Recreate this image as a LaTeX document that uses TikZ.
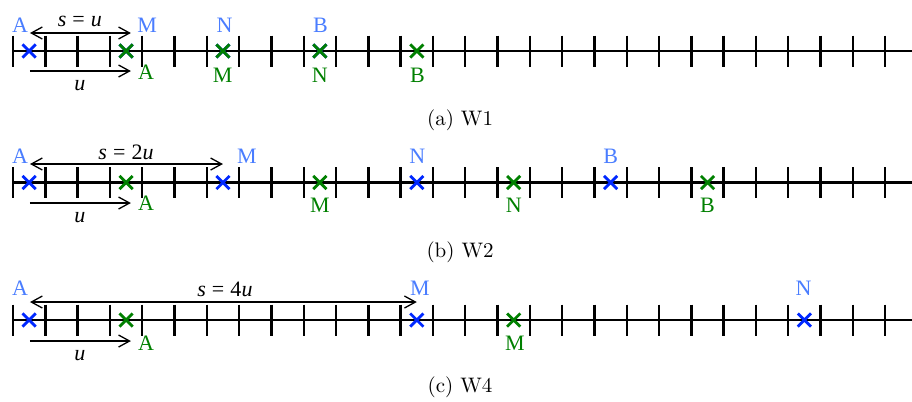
\documentclass[tikz,border=0pt]{standalone}
\usepackage{fontspec}
\newfontfamily\labelfont{Liberation Serif}
\usetikzlibrary{shapes.misc, arrows.meta, positioning}
\definecolor{ptblue}{RGB}{0, 40, 255}
\definecolor{ptlightblue}{RGB}{74, 125, 255}
\definecolor{ptgreen}{RGB}{0, 128, 0}
\tikzstyle{axis} = [line width=1.1pt, black]
\tikzstyle{tickmark} = [line width=1.2pt, black]
\tikzstyle{bluecross} = [cross out, draw=ptblue, line width=1.4pt, minimum size=5.2pt, inner sep=0pt]
\tikzstyle{greencross} = [cross out, draw=ptgreen, line width=1.4pt, minimum size=5.2pt, inner sep=0pt]
\tikzstyle{bluelabel} = [font=\labelfont\fontsize{11}{13}\selectfont, text=ptlightblue, inner sep=0pt]
\tikzstyle{greenlabel} = [font=\labelfont\fontsize{11}{13}\selectfont, text=ptgreen, inner sep=0pt]
\tikzstyle{mathlabel} = [font=\labelfont\fontsize{11}{13}\selectfont, inner sep=0pt]
\tikzstyle{arrow} = [-{Straight Barb[length=5.5pt, width=6pt]}, line width=0.65pt]
\tikzstyle{dblarrow} = [{Straight Barb[length=5.5pt, width=6pt]}-{Straight Barb[length=5.5pt, width=6pt]}, line width=0.65pt]
\tikzstyle{caption} = [font=\fontsize{10.5}{12}\selectfont, inner sep=0pt]

\begin{document}
\begin{tikzpicture}[x=16.15pt, y=-0.5pt]

\useasboundingbox (-0.4025,0) rectangle (27.83,401);

% Panel (a): W1
\draw[axis] (0,51) -- (27.83,51);
\foreach \i in {0,...,27}
    \draw[tickmark] (\i,35.5) -- (\i,66.5);

\node[bluecross] (bA1) at (0.5,51) {};
\node[bluecross] (bM1) at (3.5,51) {};
\node[bluecross] (bN1) at (6.5,51) {};
\node[bluecross] (bB1) at (9.5,51) {};
\node[greencross] (gA1) at (3.5,51) {};
\node[greencross] (gM1) at (6.5,51) {};
\node[greencross] (gN1) at (9.5,51) {};
\node[greencross] (gB1) at (12.5,51) {};

\node[bluelabel] (lbA1) at (0.217,25.5) {A};
\node[bluelabel] (lbM1) at (4.15,25.5) {M};
\node[bluelabel] (lbN1) at (6.55,25.5) {N};
\node[bluelabel] (lbB1) at (9.52,25.5) {B};
\node[greenlabel] (lgA1) at (4.12,72.5) {A};
\node[greenlabel] (lgM1) at (6.49,75) {M};
\node[greenlabel] (lgN1) at (9.5,75) {N};
\node[greenlabel] (lgB1) at (12.52,75) {B};

\coordinate (s1a) at (0.526,33);
\coordinate (s1b) at (3.65,33);
\coordinate (u1a) at (0.526,71);
\coordinate (u1b) at (3.65,71);
\draw[dblarrow] (s1a) -- (s1b);
\draw[arrow] (u1a) -- (u1b);
\node[mathlabel] (ls1) at (2.07,21) {\textit{s}\;=\;\textit{u}};
\node[mathlabel] (lu1) at (2.07,86) {\textit{u}};

\node[caption] (cap1) at (13.84,120) {(a)\ W1};

% Panel (b): W2
\draw[axis] (0,182.5) -- (27.83,182.5);
\foreach \i in {0,...,27}
    \draw[tickmark] (\i,167) -- (\i,198);

\node[bluecross] (bA2) at (0.5,182.5) {};
\node[bluecross] (bM2) at (6.5,182.5) {};
\node[bluecross] (bN2) at (12.5,182.5) {};
\node[bluecross] (bB2) at (18.5,182.5) {};
\node[greencross] (gA2) at (3.5,182.5) {};
\node[greencross] (gM2) at (9.5,182.5) {};
\node[greencross] (gN2) at (15.5,182.5) {};
\node[greencross] (gB2) at (21.5,182.5) {};

\node[bluelabel] (lbA2) at (0.217,156) {A};
\node[bluelabel] (lbM2) at (7.24,156) {M};
\node[bluelabel] (lbN2) at (12.52,156) {N};
\node[bluelabel] (lbB2) at (18.5,156) {B};
\node[greenlabel] (lgA2) at (4.12,203) {A};
\node[greenlabel] (lgM2) at (9.5,205) {M};
\node[greenlabel] (lgN2) at (15.5,205) {N};
\node[greenlabel] (lgB2) at (21.5,205) {B};

\coordinate (s2a) at (0.526,164);
\coordinate (s2b) at (6.5,164);
\coordinate (u2a) at (0.526,203);
\coordinate (u2b) at (3.65,203);
\draw[dblarrow] (s2a) -- (s2b);
\draw[arrow] (u2a) -- (u2b);
\node[mathlabel] (ls2) at (3.5,152) {\textit{s}\;=\;2\textit{u}};
\node[mathlabel] (lu2) at (2.07,218) {\textit{u}};

\node[caption] (cap2) at (13.84,252) {(b)\ W2};

% Panel (c): W4
\draw[axis] (0,320) -- (27.83,320);
\foreach \i in {0,...,27}
    \draw[tickmark] (\i,304.5) -- (\i,335.5);

\node[bluecross] (bA4) at (0.5,320) {};
\node[bluecross] (bM4) at (12.5,320) {};
\node[bluecross] (bN4) at (24.5,320) {};
\node[greencross] (gA4) at (3.5,320) {};
\node[greencross] (gM4) at (15.5,320) {};

\node[bluelabel] (lbA4) at (0.217,288) {A};
\node[bluelabel] (lbM4) at (12.6,288) {M};
\node[bluelabel] (lbN4) at (24.47,288) {N};
\node[greenlabel] (lgA4) at (4.12,343) {A};
\node[greenlabel] (lgM4) at (15.54,343) {M};

\coordinate (s4a) at (0.526,302);
\coordinate (s4b) at (12.5,302);
\coordinate (u4a) at (0.526,341);
\coordinate (u4b) at (3.65,341);
\draw[dblarrow] (s4a) -- (s4b);
\draw[arrow] (u4a) -- (u4b);
\node[mathlabel] (ls4) at (6.56,289) {\textit{s}\;=\;4\textit{u}};
\node[mathlabel] (lu4) at (2.07,356) {\textit{u}};

\node[caption] (cap4) at (13.84,387) {(c)\ W4};

\end{tikzpicture}
\end{document}
